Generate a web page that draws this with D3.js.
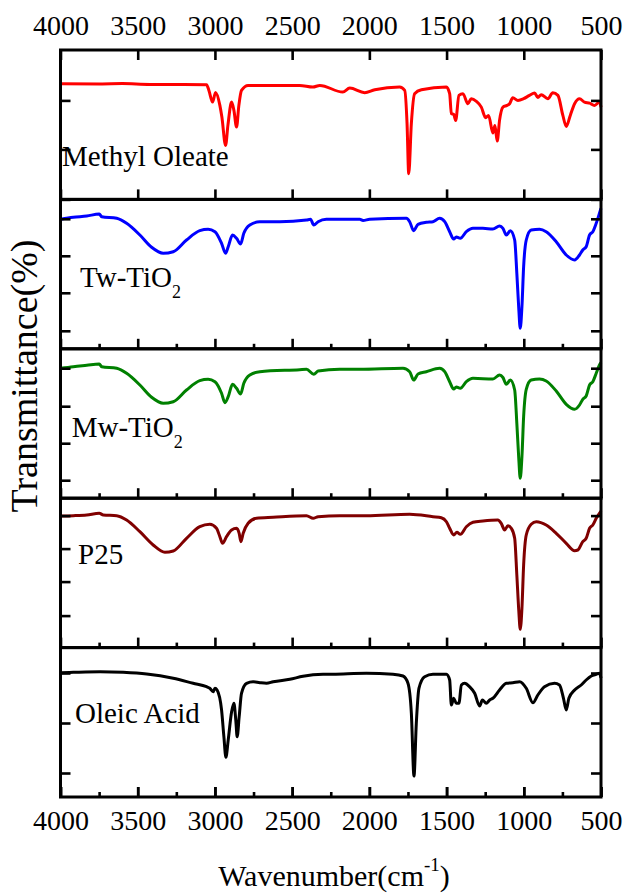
<!DOCTYPE html>
<html><head><meta charset="utf-8">
<script src="https://cdn.jsdelivr.net/npm/d3@7"></script>
<style>body{margin:0;background:#fff}svg{display:block}</style>
</head><body><svg id="c" width="629" height="893"></svg>
<script>
// ---------- data ----------
const wnTicks = [4000,3500,3000,2500,2000,1500,1000,500];
const wnMinor = [3750,3250,2750,2250,1750,1250,750];
const sampleNames = ["Methyl Oleate","Tw-TiO","Mw-TiO","P25","Oleic Acid"];
const sampleSubs = ["","2","2","",""];
const yMax = 149.4; // transmittance (a.u.) range of every panel
const methylTicks = [0,50,99];
const twTicks = [18,56,93,130];
const mwTicks = [18,55,92,130];
const p25Ticks = [32,66,99,132];
const oleicTicks = [24,74,124];

const methylOleate = [[4000,115.7],[3744,115.5],[3600,115.8],[3421,115],[3200,115],[3054,114.7],[3039,109],[3015,97.3],[2996,107],[2968,94],[2955,82.3],[2931,54],[2916,74],[2892,97.3],[2877,89],[2860,72.3],[2845,94],[2828,109],[2785,114],[2580,114],[2451,114],[2366,112.3],[2321,114],[2172,107.3],[2127,111.3],[2030,106.7],[1965,109.7],[1804,112.3],[1771,109],[1756,76],[1745,25.7],[1728,76],[1707,105.7],[1663,109.7],[1501,112.3],[1480,105.7],[1469,85.7],[1454,85],[1441,79],[1420,104],[1394,105.7],[1362,95.7],[1340,100.7],[1307,98],[1275,92.3],[1247,81.7],[1228,84],[1200,66.3],[1187,74],[1172,58.3],[1157,79],[1135,92.3],[1109,94],[1092,95.7],[1071,101.7],[1038,99],[1001,100.7],[963,104],[930,106.3],[909,102],[887,104.7],[844,100.7],[812,106.7],[779,104],[747,84],[725,73],[699,84],[671,95.7],[639,100.7],[607,97.3],[574,96.3],[542,94],[510,97.3],[500,92.3]];

const twTiO2 = [[4000,129.5],[3917,131.5],[3830,132.8],[3749,134.8],[3733,132.1],[3636,130.5],[3572,125.5],[3486,113.8],[3410,101.5],[3335,95.5],[3270,97.1],[3184,108.8],[3098,118.1],[3044,119.5],[3000,117.1],[2957,105.5],[2931,95.5],[2914,102.1],[2886,113.8],[2860,110.5],[2834,104.8],[2813,115.5],[2774,123.8],[2709,127.1],[2580,127.1],[2407,128.8],[2381,129.5],[2360,123.8],[2332,127.1],[2278,129.5],[2192,129.5],[2062,129.5],[2041,128.3],[1998,129.5],[1760,130.5],[1739,127.1],[1713,118.1],[1685,124.5],[1631,126.5],[1588,127.1],[1545,130.5],[1512,127.1],[1480,117.1],[1454,109.8],[1437,111.8],[1411,110.5],[1372,117.1],[1329,120.5],[1265,120.5],[1200,119.8],[1157,122.8],[1135,120.5],[1113,113.8],[1087,118.1],[1059,108.8],[1045,75.5],[1032,38.8],[1023,20.5],[1012,42.1],[1001,82.1],[984,108.8],[952,118.8],[898,119.5],[855,117.1],[790,107.1],[725,93.8],[671,88.8],[639,93.8],[618,98.8],[596,102.1],[574,113.8],[553,117.1],[531,125.5],[510,135.5],[500,140.5]];

const mwTiO2 = [[4000,129.9],[3917,131.5],[3830,132.9],[3749,134.2],[3733,131.5],[3636,129.9],[3572,124.9],[3486,113.2],[3410,100.9],[3335,94.9],[3270,96.5],[3184,108.2],[3098,117.5],[3044,118.9],[3000,116.5],[2957,104.9],[2935,95.5],[2914,101.5],[2886,113.9],[2860,109.9],[2834,104.2],[2813,114.9],[2774,123.2],[2709,126.5],[2451,128.5],[2407,128.9],[2360,123.9],[2332,127.2],[2192,128.9],[2062,128.9],[1782,129.9],[1739,126.5],[1713,118.2],[1685,124.2],[1631,126.5],[1545,129.9],[1512,126.5],[1480,116.5],[1454,109.2],[1437,111.2],[1411,109.9],[1372,116.5],[1329,119.9],[1200,119.2],[1157,123.2],[1135,120.7],[1113,113.9],[1087,118.2],[1059,108.2],[1045,74.9],[1032,38.2],[1023,19.9],[1012,41.5],[1001,81.5],[984,108.9],[952,118.2],[898,119.2],[855,117.2],[790,107.2],[725,93.9],[671,88.9],[639,93.2],[618,98.9],[596,102.2],[574,113.2],[553,116.5],[531,124.9],[510,133.2],[500,135.5]];

const p25 = [[4000,131.6],[3917,131.9],[3830,132.6],[3749,134.3],[3723,132.6],[3636,131.9],[3572,127.6],[3486,115.9],[3400,102.6],[3324,95.3],[3270,96.6],[3184,109.3],[3098,120.9],[3033,123.3],[2990,119.3],[2968,110.9],[2951,104.3],[2925,110.9],[2892,117.6],[2860,119.3],[2843,114.3],[2832,105.9],[2817,114.3],[2785,124.3],[2731,129.3],[2623,130.3],[2407,131.9],[2364,129.3],[2332,130.9],[2192,131.9],[2019,131.9],[1739,133.3],[1588,130.9],[1534,129.9],[1501,125.9],[1480,119.3],[1454,112.6],[1433,115.3],[1411,113.3],[1372,120.9],[1329,125.3],[1265,126.6],[1168,127.6],[1146,124.3],[1124,117.6],[1103,121.9],[1081,119.3],[1059,109.3],[1045,72.6],[1032,35.9],[1023,18.3],[1012,39.3],[1001,82.6],[984,112.6],[952,123.3],[919,125.9],[855,122.6],[790,114.3],[725,104.3],[671,96.9],[650,97.6],[618,105.9],[596,109.3],[574,119.3],[553,122.6],[531,129.3],[510,134.3],[500,136.6]];

const oleicAcid = [[4000,124.3],[3917,124.7],[3744,125.3],[3594,124.7],[3442,123],[3270,118.7],[3141,113.7],[3054,110.3],[3033,108.7],[3011,105.3],[3000,108.7],[2986,107],[2957,87],[2942,60.3],[2929,39.7],[2914,57],[2892,85.3],[2877,93.7],[2865,77],[2856,60.3],[2843,80.3],[2828,103.7],[2795,113.7],[2753,115.3],[2709,114.3],[2666,113.7],[2623,115.3],[2515,117.7],[2430,120.7],[2300,122.7],[2235,122.8],[2019,123.7],[1847,122.7],[1782,121],[1750,113.7],[1728,83.7],[1711,21],[1696,73.7],[1679,108.7],[1642,120.3],[1588,122.7],[1501,122.7],[1480,117],[1469,92],[1454,98.7],[1437,93.7],[1420,93.7],[1404,112],[1383,113.7],[1351,110.3],[1318,103.7],[1286,91],[1268,97],[1243,93.7],[1221,97],[1200,98.7],[1157,107],[1113,113.7],[1071,114.3],[1027,115.3],[984,108.7],[941,94.3],[909,102],[866,110.3],[801,113.7],[769,112],[743,98.7],[725,87],[708,98.7],[671,107],[628,112],[596,117],[563,121],[531,122.7],[510,123.7],[500,119]];

const seriesList = [methylOleate, twTiO2, mwTiO2, p25, oleicAcid];
const tickList = [methylTicks, twTicks, mwTicks, p25Ticks, oleicTicks];

// ---------- styles / layout ----------
const colors = ["#ff0000","#0000ff","#008000","#800000","#000000"];
const labelPos = [[62,165.7],[80,286.7],[71.7,436.7],[78,564.3],[75,723.3]];
const FONT = "'Liberation Serif','Times New Roman',Times,serif";
const L = 60.5, R = 601, T = 50, B = 797;
const ph = (B - T) / seriesList.length;

const svg = d3.select("#c");
const x = d3.scaleLinear().domain([4000, 500]).range([L, R]);

function styleAxis(g){
  g.select(".domain").remove();
  g.selectAll(".tick line").attr("stroke","#000").attr("stroke-width",2.6);
  g.selectAll("text").attr("font-family",FONT).attr("font-size",28).attr("fill","#000");
}

seriesList.forEach((data, i) => {
  const top = T + i * ph, bot = top + ph;
  const y = d3.scaleLinear().domain([0, yMax]).range([bot, top]);
  const g = svg.append("g");

  g.append("path")
    .datum(data.slice().sort((a,b)=>b[0]-a[0]))
    .attr("fill","none")
    .attr("stroke",colors[i])
    .attr("stroke-width",3)
    .attr("stroke-linejoin","round")
    .attr("d", d3.line().x(d=>x(d[0])).y(d=>y(d[1])).curve(d3.curveMonotoneX));

  g.append("g").attr("transform",`translate(${L},0)`)
    .call(d3.axisLeft(y).tickValues(tickList[i]).tickSize(-10).tickFormat(""))
    .call(styleAxis);
  g.append("g").attr("transform",`translate(${R},0)`)
    .call(d3.axisRight(y).tickValues(tickList[i]).tickSize(-10).tickFormat(""))
    .call(styleAxis);

  g.append("g").attr("transform",`translate(0,${bot})`)
    .call(d3.axisTop(x).tickValues(wnTicks).tickSize(10).tickFormat(""))
    .call(styleAxis);
  if (i > 0) {
    g.append("g").attr("transform",`translate(0,${bot})`)
      .call(d3.axisTop(x).tickValues(wnMinor).tickSize(5).tickFormat(""))
      .call(styleAxis);
  }
  if (i === 0) {
    g.append("g").attr("transform",`translate(0,${top})`)
      .call(d3.axisTop(x).tickValues(wnTicks).tickSize(-10).tickPadding(15).tickFormat(d3.format("d")))
      .call(styleAxis);
  }
  if (i === seriesList.length - 1) {
    g.append("g").attr("transform",`translate(0,${bot})`)
      .call(d3.axisBottom(x).tickValues(wnTicks).tickSize(-10).tickPadding(13).tickFormat(d3.format("d")))
      .call(styleAxis);
  }

  g.append("rect").attr("x",L).attr("y",top).attr("width",R-L).attr("height",ph)
    .attr("fill","none").attr("stroke","#000").attr("stroke-width",3);

  const t = g.append("text").attr("x",labelPos[i][0]).attr("y",labelPos[i][1])
    .attr("font-family",FONT).attr("font-size",29).attr("fill","#000")
    .text(sampleNames[i]);
  if (sampleSubs[i]) {
    t.append("tspan").attr("font-size",18).attr("dy",11.5).text(sampleSubs[i]);
  }
});

svg.append("text")
  .attr("transform","translate(37,376) rotate(-90)")
  .attr("text-anchor","middle")
  .attr("font-family",FONT).attr("font-size",38).attr("fill","#000")
  .text("Transmittance(%)");

const xt = svg.append("text")
  .attr("x",334).attr("y",886)
  .attr("text-anchor","middle")
  .attr("font-family",FONT).attr("font-size",30).attr("fill","#000");
xt.append("tspan").text("Wavenumber(cm");
xt.append("tspan").attr("font-size",19).attr("dy",-15).text("-1");
xt.append("tspan").attr("dy",15).text(")");
</script>
</body></html>
